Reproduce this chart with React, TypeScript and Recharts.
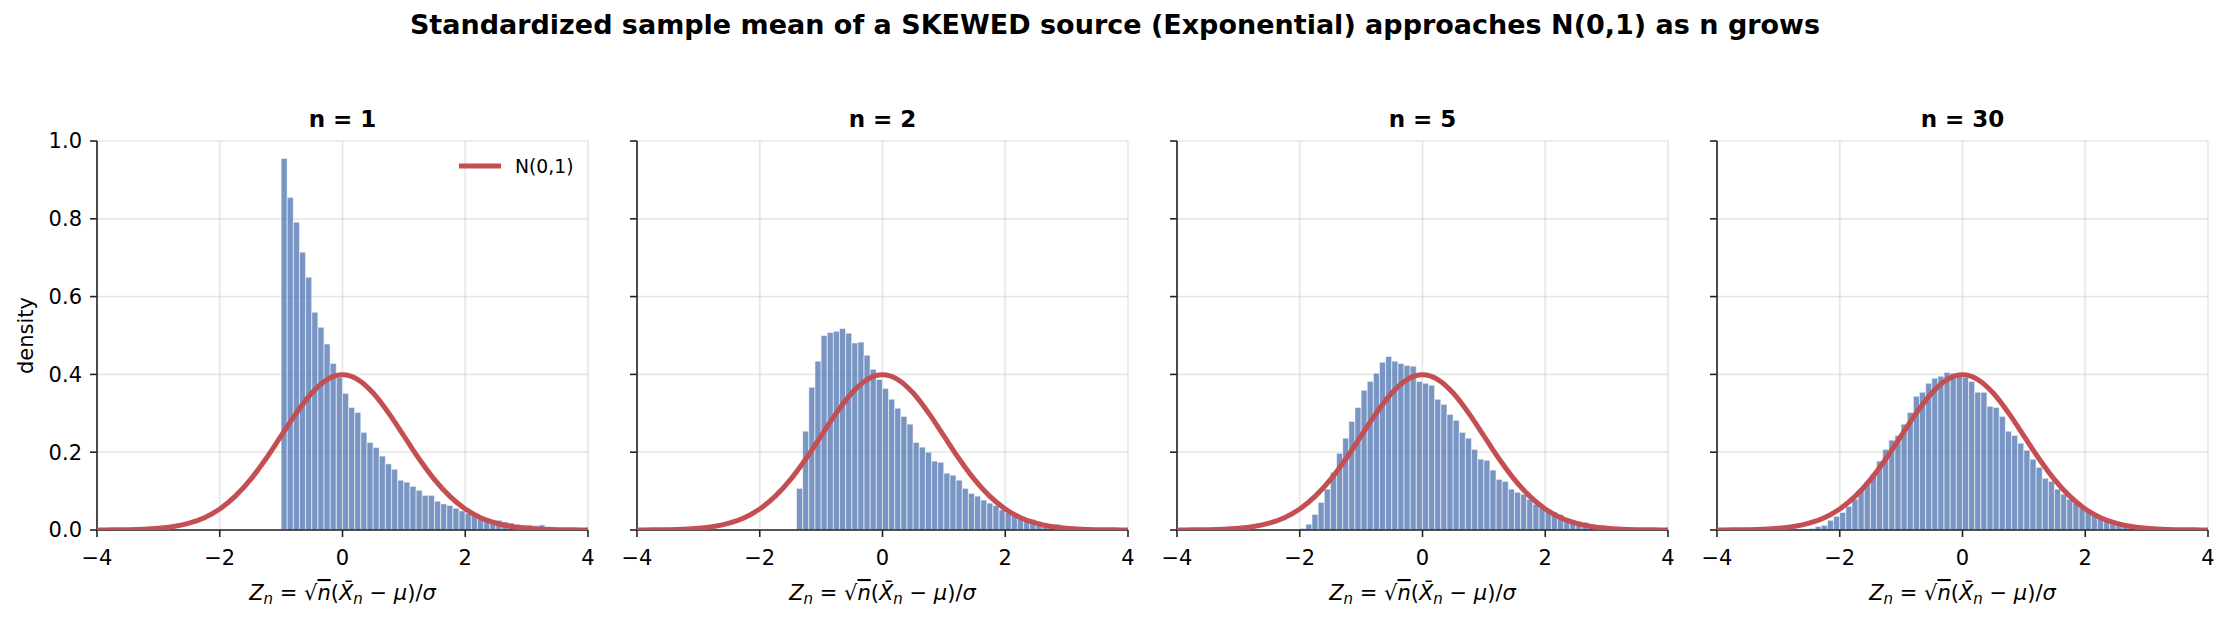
import React from 'react';
import { ComposedChart, Bar, Line, XAxis, YAxis, CartesianGrid, Legend } from 'recharts';

const FONT = '"DejaVu Sans", sans-serif';

const figureTitle = 'Standardized sample mean of a SKEWED source (Exponential) approaches N(0,1) as n grows';
const panelTitles = ['n = 1', 'n = 2', 'n = 5', 'n = 30'];
const yLabel = 'density';
const curveName = 'N(0,1)';
const xTicks = [-4, -2, 0, 2, 4];
const yTicks = [0, 0.2, 0.4, 0.6, 0.8, 1.0];

const BIN_WIDTH = 0.1;
const firstBinEdge = [-1.0, -1.4, -2.0, -2.7];

const densityN1 = [
  0.955, 0.855, 0.791, 0.714, 0.650, 0.560, 0.521, 0.478, 0.428, 0.392,
  0.351, 0.315, 0.302, 0.251, 0.225, 0.212, 0.190, 0.170, 0.156, 0.128,
  0.123, 0.112, 0.102, 0.089, 0.089, 0.074, 0.067, 0.063, 0.056, 0.049,
  0.043, 0.038, 0.034, 0.031, 0.025, 0.025, 0.021, 0.018, 0.015, 0.013,
  0.013, 0.011, 0.013, 0.009, 0.007, 0.005, 0.004, 0.004, 0.003, 0.003,
];

const densityN2 = [
  0.107, 0.254, 0.367, 0.434, 0.500, 0.508, 0.511, 0.518, 0.506, 0.481,
  0.483, 0.449, 0.413, 0.387,
  0.364, 0.336, 0.313, 0.292, 0.272, 0.225, 0.213, 0.200, 0.177, 0.174,
  0.146, 0.141, 0.128, 0.107, 0.094, 0.087, 0.077, 0.069, 0.063, 0.052,
  0.045, 0.040, 0.030, 0.027, 0.027, 0.022, 0.017, 0.015, 0.015, 0.009,
  0.009, 0.007, 0.007, 0.005, 0.004, 0.004, 0.003, 0.003, 0.002, 0.002,
];

const densityN5 = [
  0.004, 0.015, 0.040, 0.071, 0.105, 0.148, 0.197, 0.236, 0.279, 0.315,
  0.359, 0.382, 0.403, 0.431, 0.446, 0.434, 0.428, 0.423, 0.421, 0.382,
  0.377, 0.372, 0.336, 0.323, 0.297, 0.282, 0.251, 0.236, 0.207, 0.182,
  0.179, 0.154, 0.130, 0.125, 0.105, 0.097, 0.092, 0.079, 0.066, 0.058,
  0.053, 0.046, 0.040, 0.030, 0.022, 0.022, 0.020, 0.015, 0.009, 0.012,
  0.007, 0.007, 0.007, 0.007, 0.003, 0.003, 0.002, 0.002, 0.001, 0.001,
];

const densityN30 = [
  0.001, 0.002, 0.004, 0.009, 0.012, 0.025, 0.035,
  0.045, 0.061, 0.079, 0.102, 0.123, 0.144, 0.177, 0.207, 0.231, 0.243,
  0.272, 0.302, 0.344, 0.354, 0.377, 0.390, 0.395, 0.405, 0.403, 0.396,
  0.392, 0.382, 0.354, 0.354, 0.318, 0.315, 0.292, 0.254, 0.243, 0.223,
  0.205, 0.182, 0.161, 0.133, 0.125, 0.105, 0.092, 0.079, 0.069, 0.058,
  0.051, 0.043, 0.030, 0.027, 0.022, 0.020, 0.015, 0.012, 0.009, 0.007,
  0.005, 0.004, 0.003, 0.003, 0.002, 0.002,
];

const normalX = [
  -4, -3.75, -3.5, -3.25, -3, -2.75, -2.5, -2.25, -2, -1.75, -1.5, -1.25, -1, -0.75, -0.5, -0.25,
  0, 0.25, 0.5, 0.75, 1, 1.25, 1.5, 1.75, 2, 2.25, 2.5, 2.75, 3, 3.25, 3.5, 3.75, 4,
];
const normalPdf = [
  0.0001, 0.0004, 0.0009, 0.0020, 0.0044, 0.0091, 0.0175, 0.0317, 0.0540, 0.0863, 0.1295, 0.1826, 0.2420, 0.3011, 0.3521, 0.3867,
  0.3989, 0.3867, 0.3521, 0.3011, 0.2420, 0.1826, 0.1295, 0.0863, 0.0540, 0.0317, 0.0175, 0.0091, 0.0044, 0.0020, 0.0009, 0.0004, 0.0001,
];

const densitySeries = [densityN1, densityN2, densityN5, densityN30];

// layout
const PLOT_W = 491;
const PLOT_H = 389;
const PLOT_TOP = 141;
const PLOT_LEFTS = [97, 637, 1177, 1717];
const Y_AXIS_W = 90;
const X_AXIS_H = 80;
const M_TOP = 20;
const M_RIGHT = 20;
const CHART_W = Y_AXIS_W + PLOT_W + M_RIGHT;
const CHART_H = M_TOP + PLOT_H + X_AXIS_H;

const BAR_COLOR = '#4C72B0';
const CURVE_COLOR = '#C44E52';
const AXIS_COLOR = '#222222';

const fmtX = (v: number) => (v < 0 ? '\u2212' + Math.abs(v) : String(v));
const fmtY = (v: number) => Number(v).toFixed(1);

const makeBins = (start: number, values: number[]) =>
  values.map((d, i) => ({ x: Number((start + BIN_WIDTH * (i + 0.5)).toFixed(3)), density: d }));

const normalData = normalX.map((x, i) => ({ x, pdf: normalPdf[i] }));

function XLabel(props: any) {
  const vb = props.viewBox || { x: 0, y: 0, width: 0, height: 0 };
  const cx = vb.x + vb.width / 2;
  const y = vb.y + 70;
  return (
    <text x={cx} y={y} textAnchor="middle" fontFamily={FONT} fontSize={21} fill="#000">
      <tspan fontStyle="italic">Z</tspan>
      <tspan fontStyle="italic" fontSize={15} dy={4}>n</tspan>
      <tspan dy={-4}>{' = \u221A'}</tspan>
      <tspan fontStyle="italic" textDecoration="overline">n</tspan>
      <tspan>(</tspan>
      <tspan fontStyle="italic">{'X\u0304'}</tspan>
      <tspan fontStyle="italic" fontSize={15} dy={4}>n</tspan>
      <tspan dy={-4}>{' \u2212 '}</tspan>
      <tspan fontStyle="italic">{'\u03BC'}</tspan>
      <tspan>)/</tspan>
      <tspan fontStyle="italic">{'\u03C3'}</tspan>
    </text>
  );
}

function YLabel(props: any) {
  const vb = props.viewBox || { x: 0, y: 0, width: 0, height: 0 };
  const x = vb.x + 18.6;
  const y = vb.y + vb.height / 2;
  return (
    <text
      x={x}
      y={y}
      transform={`rotate(-90, ${x}, ${y})`}
      textAnchor="middle"
      dominantBaseline="central"
      fontFamily={FONT}
      fontSize={21}
      fill="#000"
    >
      {yLabel}
    </text>
  );
}

function EmptyTick() {
  return <g />;
}

function LegendContent(props: any) {
  const item = props.payload && props.payload[0];
  if (!item) return null;
  return (
    <svg width={140} height={30} style={{ display: 'block', overflow: 'visible' }}>
      <line x1={2} y1={15} x2={44} y2={15} stroke={item.color || CURVE_COLOR} strokeWidth={5} />
      <text x={58} y={15} dominantBaseline="central" fontFamily={FONT} fontSize={18.75} fill="#000">
        {item.value}
      </text>
    </svg>
  );
}

function Panel({ index }: { index: number }) {
  const bins = makeBins(firstBinEdge[index], densitySeries[index]);
  const left = PLOT_LEFTS[index] - Y_AXIS_W;
  const top = PLOT_TOP - M_TOP;
  const showYLabels = index === 0;
  return (
    <div style={{ position: 'absolute', left, top, width: CHART_W, height: CHART_H }}>
      <div style={{ position: 'absolute', left: 0, top: 0 }}>
        <ComposedChart
          width={CHART_W}
          height={CHART_H}
          data={bins}
          margin={{ top: M_TOP, right: M_RIGHT, bottom: 0, left: 0 }}
          barCategoryGap={0}
          barGap={0}
        >
          <CartesianGrid stroke="#b0b0b0" strokeOpacity={0.3} strokeWidth={1.67} />
          <XAxis
            type="number"
            dataKey="x"
            domain={[-4, 4]}
            allowDataOverflow
            ticks={xTicks}
            interval={0}
            tickFormatter={fmtX}
            height={X_AXIS_H}
            tickSize={7}
            tickMargin={13}
            axisLine={{ stroke: AXIS_COLOR, strokeWidth: 1.6 }}
            tickLine={{ stroke: AXIS_COLOR, strokeWidth: 1.6 }}
            tick={{ fontSize: 21, fill: '#000', fontFamily: FONT }}
            label={<XLabel />}
          />
          <YAxis
            type="number"
            domain={[0, 1]}
            allowDataOverflow
            ticks={yTicks}
            interval={0}
            tickFormatter={fmtY}
            width={Y_AXIS_W}
            tickSize={7}
            tickMargin={8}
            axisLine={{ stroke: AXIS_COLOR, strokeWidth: 1.6 }}
            tickLine={{ stroke: AXIS_COLOR, strokeWidth: 1.6 }}
            tick={showYLabels ? { fontSize: 21, fill: '#000', fontFamily: FONT } : <EmptyTick />}
            label={showYLabels ? <YLabel /> : undefined}
          />
          <Bar
            dataKey="density"
            fill={BAR_COLOR}
            fillOpacity={0.75}
            stroke="#ffffff"
            strokeWidth={0.5}
            isAnimationActive={false}
          />
        </ComposedChart>
      </div>
      <div style={{ position: 'absolute', left: 0, top: 0 }}>
        <ComposedChart
          width={CHART_W}
          height={CHART_H}
          data={normalData}
          margin={{ top: M_TOP, right: M_RIGHT, bottom: X_AXIS_H, left: Y_AXIS_W }}
        >
          <XAxis type="number" dataKey="x" domain={[-4, 4]} allowDataOverflow hide />
          <YAxis type="number" domain={[0, 1]} allowDataOverflow hide />
          <Line
            dataKey="pdf"
            name={curveName}
            type="monotone"
            stroke={CURVE_COLOR}
            strokeWidth={5}
            dot={false}
            activeDot={false}
            isAnimationActive={false}
          />
          {index === 0 ? (
            <Legend
              layout="vertical"
              align="center"
              verticalAlign="middle"
              content={<LegendContent />}
              wrapperStyle={{ left: 450, top: 30, width: 140, height: 30 }}
            />
          ) : null}
        </ComposedChart>
      </div>
    </div>
  );
}

export default function App() {
  return (
    <div
      style={{
        position: 'absolute',
        left: 0,
        top: 0,
        width: 2230,
        height: 623,
        background: '#ffffff',
        overflow: 'hidden',
        fontFamily: FONT,
      }}
    >
      <svg width={2230} height={623} style={{ position: 'absolute', left: 0, top: 0 }}>
        <text x={1115} y={34} textAnchor="middle" fontFamily={FONT} fontSize={27} fontWeight="bold" fill="#000">
          {figureTitle}
        </text>
        {panelTitles.map((t, i) => (
          <text
            key={t}
            x={PLOT_LEFTS[i] + PLOT_W / 2}
            y={127}
            textAnchor="middle"
            fontFamily={FONT}
            fontSize={23}
            fontWeight="bold"
            fill="#000"
          >
            {t}
          </text>
        ))}
      </svg>
      {panelTitles.map((t, i) => (
        <Panel key={t} index={i} />
      ))}
    </div>
  );
}
